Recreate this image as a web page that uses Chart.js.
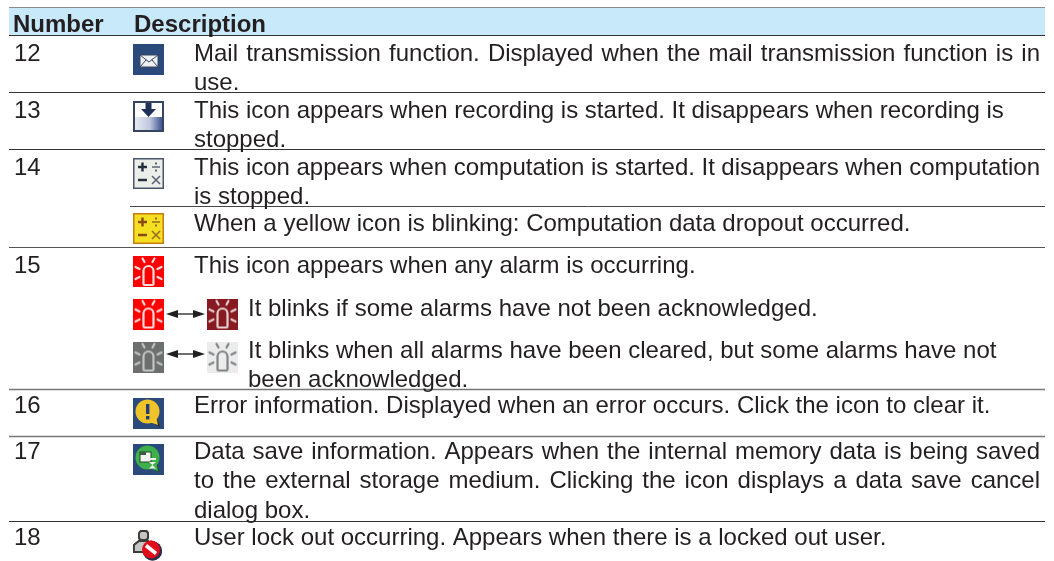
<!DOCTYPE html>
<html>
<head>
<meta charset="utf-8">
<style>
html, body { margin: 0; padding: 0; background: #fff; }
canvas { display: block; }
</style>
<script src="https://cdnjs.cloudflare.com/ajax/libs/Chart.js/4.4.1/chart.umd.min.js"></script>
</head>
<body>
<canvas id="myChart" width="1054" height="561"></canvas>
<script>
var headerLabels = ['Number', 'Description'];
var rowNumbers = ['12', '13', '14', '15', '16', '17', '18'];
var descriptionLines = [
  'Mail transmission function. Displayed when the mail transmission function is in',
  'use.',
  'This icon appears when recording is started. It disappears when recording is',
  'stopped.',
  'This icon appears when computation is started. It disappears when computation',
  'is stopped.',
  'When a yellow icon is blinking: Computation data dropout occurred.',
  'This icon appears when any alarm is occurring.',
  'It blinks if some alarms have not been acknowledged.',
  'It blinks when all alarms have been cleared, but some alarms have not',
  'been acknowledged.',
  'Error information. Displayed when an error occurs. Click the icon to clear it.',
  'Data save information. Appears when the internal memory data is being saved',
  'to the external storage medium. Clicking the icon displays a data save cancel',
  'dialog box.',
  'User lock out occurring. Appears when there is a locked out user.'
];
var iconNames = ['mail', 'record', 'calc', 'calcYellow', 'alarmRed', 'alarmRed', 'alarmDark',
  'alarmGrey', 'alarmPale', 'error', 'save', 'lockout'];

// layout, in page pixels (the scales below run 0-1054 / 0-561)
var numberRows = [61, 118, 175, 273, 413, 459, 545];
var lineRows = [61, 90, 118, 147, 175, 204, 231, 273, 316, 358, 387, 413, 459, 488, 518, 545];
var lineLeft = [194, 194, 194, 194, 194, 194, 194, 194, 248, 248, 248, 194, 194, 194, 194, 194];
var lineRight = { 0: 1040, 4: 1040, 12: 1040, 13: 1040 }; // lines set flush to the right margin
var rules = [
  { y: 7, from: 9, color: '#8a8a8a', w: 1 },
  { y: 35, from: 9, color: '#333333', w: 1 },
  { y: 92, from: 9, color: '#333333', w: 1 },
  { y: 149, from: 9, color: '#333333', w: 1 },
  { y: 206, from: 130, color: '#444444', w: 1 },
  { y: 247, from: 9, color: '#555555', w: 1 },
  { y: 389, from: 9, color: '#777777', w: 1.5 },
  { y: 436, from: 9, color: '#777777', w: 1.5 },
  { y: 521, from: 9, color: '#333333', w: 1 }
];
var iconSpots = [
  [148.5, 59.5], [148.5, 116.5], [148.5, 173.5], [148.5, 228.5], [148.5, 271.5], [148.5, 314],
  [222.5, 314], [148.5, 357], [222.5, 357], [148.5, 413.5], [148.5, 459.5], [148.5, 545.5]
];
var arrowSpots = [314, 354];

function paintIcon(name, g) {
  g.lineCap = 'round';
  if (name == 'mail') {
    g.fillStyle = '#2b4a7c'; g.fillRect(0, 0, 31, 31);
    g.fillStyle = '#eef0f3'; g.strokeStyle = '#3b4660'; g.lineWidth = 1;
    g.fillRect(7, 11, 18, 12); g.strokeRect(7, 11, 18, 12);
    g.beginPath(); g.moveTo(7, 11); g.lineTo(16, 18); g.lineTo(25, 11);
    g.moveTo(7, 23); g.lineTo(13, 16); g.moveTo(25, 23); g.lineTo(19, 16); g.stroke();
  } else if (name == 'record') {
    g.fillStyle = '#36445f'; g.fillRect(0, 0, 31, 31);
    g.fillStyle = '#ffffff'; g.fillRect(2, 2, 27, 14);
    var gr = g.createLinearGradient(2, 0, 29, 0);
    gr.addColorStop(0, '#e8eaf3'); gr.addColorStop(0.55, '#c0c7de'); gr.addColorStop(1, '#3d5590');
    g.fillStyle = gr; g.fillRect(2, 16, 27, 13);
    g.fillStyle = '#1f3157';
    g.fillRect(12.5, 2, 6, 6);
    g.beginPath(); g.moveTo(8, 8); g.lineTo(23, 8); g.lineTo(15.5, 16); g.fill();
  } else if (name == 'calc' || name == 'calcYellow') {
    var y = name == 'calcYellow';
    g.fillStyle = y ? '#c77b12' : '#4a566a'; g.fillRect(0, 0, 31, 31);
    g.fillStyle = y ? '#f4e020' : '#eceeea'; g.fillRect(1.5, 1.5, 28, 28);
    g.strokeStyle = y ? '#8a4a12' : '#26303f'; g.lineWidth = 2.4;
    g.lineCap = 'butt';
    g.beginPath(); g.moveTo(5, 9); g.lineTo(14, 9); g.moveTo(9.5, 4.5); g.lineTo(9.5, 13.5);
    g.moveTo(5, 22); g.lineTo(14, 22); g.stroke();
    g.lineWidth = 1.6; g.strokeStyle = y ? '#9a6a20' : '#5a6470';
    g.beginPath(); g.moveTo(19, 9); g.lineTo(27, 9);
    g.moveTo(19, 18); g.lineTo(27, 26); g.moveTo(27, 18); g.lineTo(19, 26); g.stroke();
    g.fillStyle = g.strokeStyle;
    g.fillRect(22, 4.5, 2, 2); g.fillRect(22, 11.5, 2, 2);
  } else if (name.indexOf('alarm') == 0) {
    var bg = { alarmRed: '#ff0000', alarmDark: '#861a20', alarmGrey: '#6c6f6e', alarmPale: '#ececec' }[name];
    var fg = { alarmRed: '#f6dcdc', alarmDark: '#e6d0d0', alarmGrey: '#c2c4c4', alarmPale: '#7f8484' }[name];
    g.fillStyle = bg; g.fillRect(0, 0, 31, 31);
    g.strokeStyle = fg; g.lineWidth = 2.2;
    g.beginPath(); g.roundRect(10.5, 10, 10, 19, [5, 5, 1, 1]); g.stroke();
    var rays = [[9.5, 2.5, 11.5, 6], [21.5, 2.5, 19.5, 6], [2.5, 11, 6.5, 13], [28.5, 11, 24.5, 13], [2.5, 23, 6.5, 21], [28.5, 23, 24.5, 21]];
    rays.forEach(function (r) { g.beginPath(); g.moveTo(r[0], r[1]); g.lineTo(r[2], r[3]); g.stroke(); });
  } else if (name == 'error' || name == 'save') {
    var e = name == 'error';
    g.fillStyle = '#2b4a7c'; g.fillRect(0, 0, 31, 31);
    g.fillStyle = e ? '#2c2c20' : '#1c5a2c';
    g.beginPath(); g.moveTo(18, 24); g.lineTo(27, 29); g.lineTo(24, 20); g.fill();
    g.fillStyle = e ? '#eec429' : '#3eb04a';
    g.beginPath(); g.arc(14.5, 13.5, 12, 0, Math.PI * 2); g.fill();
    g.beginPath(); g.moveTo(16, 24); g.lineTo(25, 27); g.lineTo(23, 18); g.fill();
    if (e) {
      g.fillStyle = '#253a78';
      g.fillRect(13, 6, 3.4, 10); g.fillRect(13, 18, 3.4, 3.4);
    } else {
      g.fillStyle = '#f2f5ee'; g.strokeStyle = '#23402c'; g.lineWidth = 1;
      g.fillRect(7, 8, 11, 10); g.strokeRect(7, 8, 11, 10);
      g.fillStyle = '#3c5a48'; g.fillRect(7, 8, 6, 3);
      g.fillStyle = '#eef2ea'; g.fillRect(15, 14, 8, 2);
      g.beginPath(); g.moveTo(16, 18); g.lineTo(23, 18); g.lineTo(19.5, 21); g.lineTo(23, 24.5); g.lineTo(16, 24.5); g.lineTo(19.5, 21); g.fill();
    }
  } else if (name == 'lockout') {
    g.fillStyle = '#c4c6c6'; g.strokeStyle = '#3a3a36'; g.lineWidth = 1.8;
    g.beginPath(); g.roundRect(6, 1, 9, 9, 3); g.fill(); g.stroke();
    g.beginPath(); g.moveTo(1, 22); g.lineTo(1, 15); g.lineTo(6, 11); g.lineTo(15, 11); g.lineTo(18, 14);
    g.lineTo(18, 22); g.closePath(); g.fill(); g.stroke();
    g.fillStyle = '#2b2f4c';
    g.beginPath(); g.arc(19.5, 21, 9.5, 0, Math.PI * 2); g.fill();
    g.fillStyle = '#e00c1c';
    g.beginPath(); g.arc(18, 19.5, 9, 0, Math.PI * 2); g.fill();
    g.strokeStyle = '#ffffff'; g.lineWidth = 3.6; g.lineCap = 'butt';
    g.beginPath(); g.moveTo(13, 15.5); g.lineTo(23, 23.5); g.stroke();
  }
}

// the icons in the original are soft, so lay a blurred copy over the sharp one
function makeIcon(name) {
  var sharp = document.createElement('canvas');
  sharp.width = 31; sharp.height = 31;
  paintIcon(name, sharp.getContext('2d'));
  var soft = document.createElement('canvas');
  soft.width = 31; soft.height = 31;
  var g = soft.getContext('2d');
  g.drawImage(sharp, 0, 0);
  g.filter = 'blur(0.6px)';
  g.drawImage(sharp, 0, 0);
  return soft;
}

function makeArrowHead(right) {
  var c = document.createElement('canvas');
  c.width = 12; c.height = 8;
  var g = c.getContext('2d');
  g.fillStyle = '#231f20';
  g.beginPath();
  if (right) { g.moveTo(0, 0); g.lineTo(12, 4); g.lineTo(0, 8); }
  else { g.moveTo(12, 0); g.lineTo(0, 4); g.lineTo(12, 8); }
  g.fill();
  return c;
}

var ruleSets = rules.map(function (r) {
  return {
    type: 'line', data: [{ x: r.from, y: r.y + 0.5 }, { x: 1045, y: r.y + 0.5 }],
    borderColor: r.color, borderWidth: r.w, pointRadius: 0
  };
});
var arrowSets = arrowSpots.map(function (y) {
  return {
    type: 'line', data: [{ x: 172, y: y }, { x: 199, y: y }],
    borderColor: '#231f20', borderWidth: 1.3,
    pointStyle: [makeArrowHead(false), makeArrowHead(true)], pointRadius: 6
  };
});
var iconSet = {
  type: 'scatter',
  data: iconSpots.map(function (p) { return { x: p[0], y: p[1] }; }),
  pointStyle: iconNames.map(makeIcon),
  pointRadius: 15
};

var tablePlugin = {
  id: 'tablePlugin',
  beforeDatasetsDraw: function (chart) {
    var x = chart.scales.x, y = chart.scales.y, c = chart.ctx;
    var top = y.getPixelForValue(7), left = x.getPixelForValue(9);
    c.fillStyle = '#c7e9f9';
    c.fillRect(left, top, x.getPixelForValue(1045) - left, y.getPixelForValue(35) - top);
  },
  afterDatasetsDraw: function (chart) {
    var x = chart.scales.x, y = chart.scales.y, c = chart.ctx;
    c.save();
    c.fillStyle = '#231f20';
    c.textBaseline = 'alphabetic';
    c.filter = 'blur(0.35px)';
    c.font = 'bold 24px "Liberation Sans"';
    c.fillText(headerLabels[0], x.getPixelForValue(13), y.getPixelForValue(32));
    c.fillText(headerLabels[1], x.getPixelForValue(134), y.getPixelForValue(32));
    c.font = '24px "Liberation Sans"';
    rowNumbers.forEach(function (n, i) {
      c.fillText(n, x.getPixelForValue(14), y.getPixelForValue(numberRows[i]));
    });
    descriptionLines.forEach(function (t, i) {
      c.wordSpacing = '0px';
      if (lineRight[i]) {
        var gaps = t.split(' ').length - 1;
        c.wordSpacing = ((lineRight[i] - lineLeft[i] - c.measureText(t).width) / gaps) + 'px';
      }
      c.fillText(t, x.getPixelForValue(lineLeft[i]), y.getPixelForValue(lineRows[i]));
    });
    c.restore();
  }
};

var myChart = new Chart(document.getElementById('myChart').getContext('2d'), {
  type: 'scatter',
  data: { datasets: ruleSets.concat(arrowSets, [iconSet]) },
  options: {
    responsive: false,
    animation: false,
    layout: { padding: 0, autoPadding: false },
    plugins: { legend: { display: false }, tooltip: { enabled: false } },
    scales: {
      x: { type: 'linear', min: 0, max: 1054, display: false },
      y: { type: 'linear', min: 0, max: 561, reverse: true, display: false }
    }
  },
  plugins: [tablePlugin]
});
</script>
</body>
</html>
